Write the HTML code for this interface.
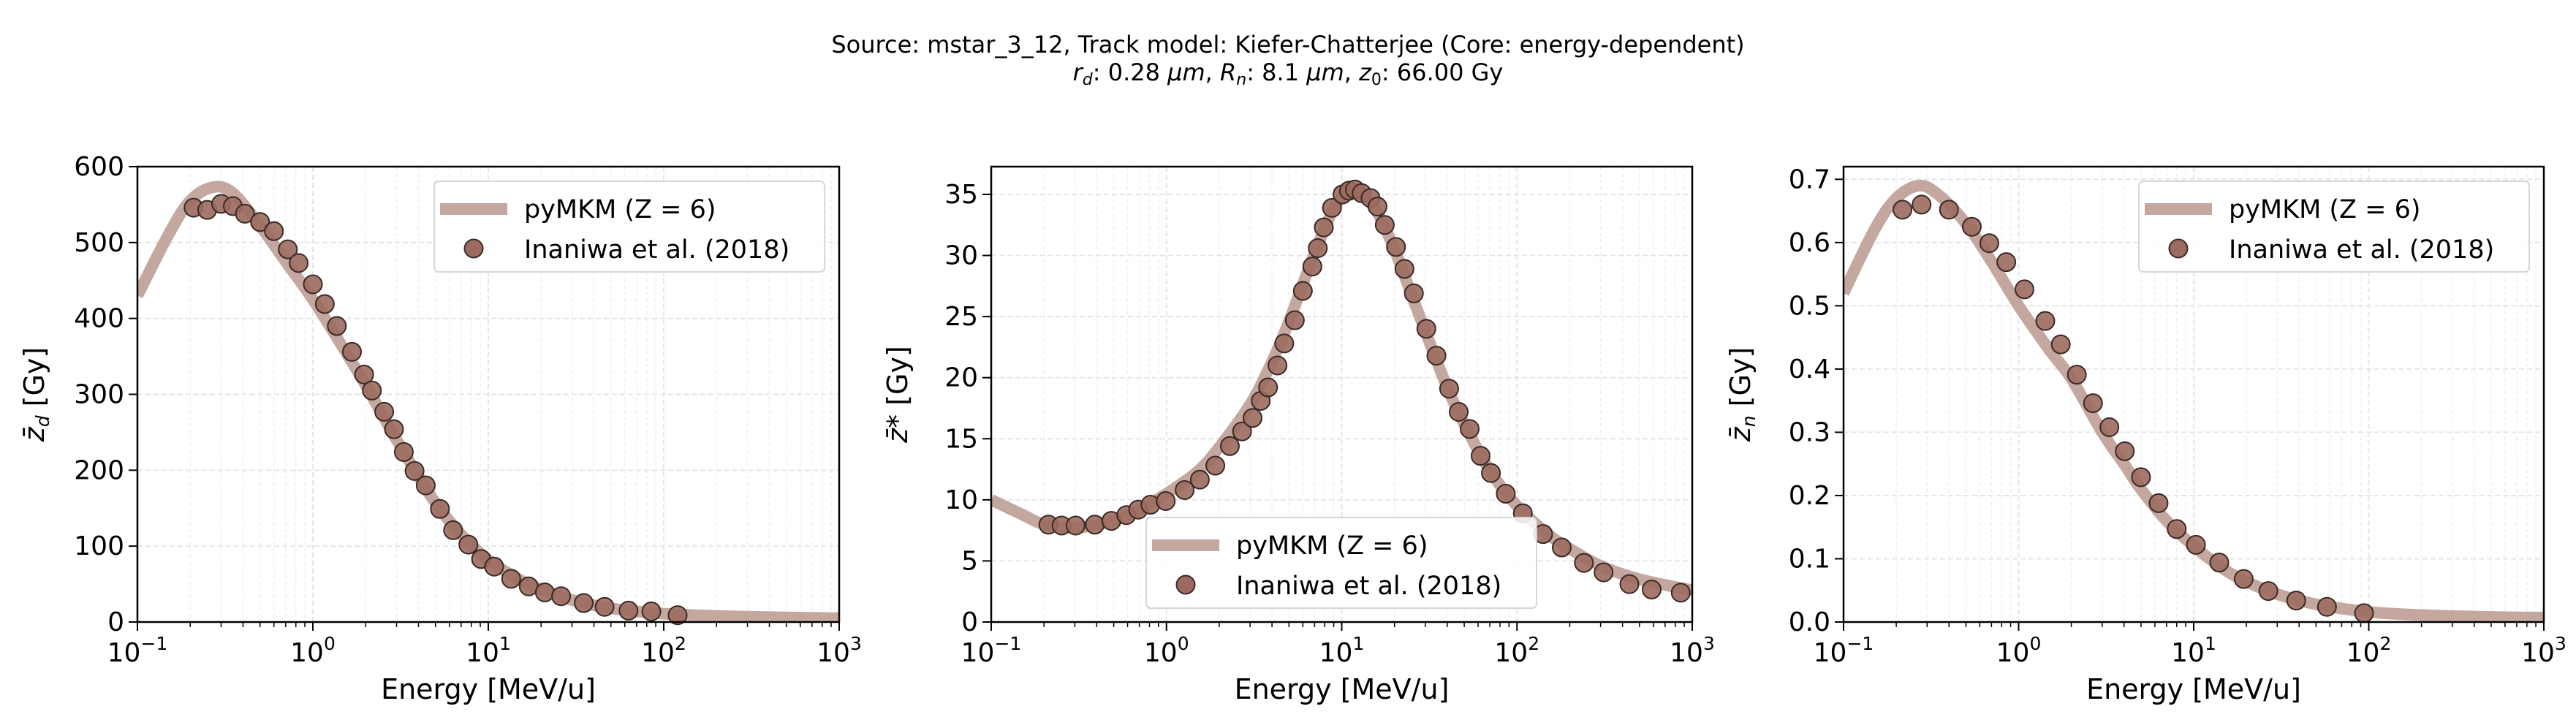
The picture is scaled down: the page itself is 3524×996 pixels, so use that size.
<!DOCTYPE html>
<html><head><meta charset="utf-8">
<style>
html,body{margin:0;padding:0;background:#fff;}
svg{display:block;font-family:"DejaVu Sans","Liberation Sans",sans-serif;}
</style></head>
<body>
<svg id="fig" width="3524" height="996" viewBox="0 0 3524 996" xmlns="http://www.w3.org/2000/svg">
<text x="1762" y="72" font-size="32" text-anchor="middle">Source: mstar_3_12, Track model: Kiefer-Chatterjee (Core: energy-dependent)</text>
<text x="1762" y="110" font-size="32" text-anchor="middle"><tspan font-style="italic">r</tspan><tspan font-style="italic" font-size="22" dy="6">d</tspan><tspan dy="-6">: 0.28 </tspan><tspan font-style="italic">μm</tspan><tspan>, </tspan><tspan font-style="italic">R</tspan><tspan font-style="italic" font-size="22" dy="6">n</tspan><tspan dy="-6">: 8.1 </tspan><tspan font-style="italic">μm</tspan><tspan>, </tspan><tspan font-style="italic">z</tspan><tspan font-size="22" dy="6">0</tspan><tspan dy="-6">: 66.00 Gy</tspan></text>
</svg>
<script>
// ---- Data (panel 1: z_d) ----
const lineE1 = [0.1,0.15,0.2,0.27,0.35,0.5,0.7,1,1.5,2,3,4,5,7,10,15,20,30,50,100,200,500,1000];
const lineY1 = [430,510,555,573,565,522,475,425,360,312,240,192,157,115,82,56,43,29,18,11,8,6,5];
const ptE1 = [0.209,0.25,0.30,0.35,0.41,0.50,0.60,0.72,0.83,1.0,1.17,1.37,1.67,1.96,2.17,2.55,2.9,3.3,3.8,4.4,5.3,6.3,7.7,9.1,10.8,13.5,17,21,26,35,46,63,85,120];
const ptY1 = [546,543,551,548,538,527,515,491,473,445,419,390,356,326,305,277,254,224,199,180,149,121,102,83,73,57,47,39,34,25,20,15,14,9];
// ---- Data (panel 2: z*) ----
const lineE2 = [0.1,0.15,0.2,0.3,0.5,0.7,1,1.5,2,3,4,5,7,9,11,13,16,20,25,30,40,50,70,100,150,200,300,500,1000];
const lineY2 = [10,8.8,8.0,7.7,8.3,9.2,10.5,12.3,14.3,17.8,21.3,24.6,30.2,33.8,35.3,35,33.5,30.5,26.8,23.8,19.2,16.2,12.4,9.5,7.2,6,4.6,3.5,2.6];
const ptE2 = [0.212,0.252,0.303,0.39,0.485,0.59,0.69,0.81,0.99,1.27,1.55,1.9,2.3,2.7,3.1,3.45,3.8,4.3,4.7,5.4,6.0,6.8,7.3,7.9,8.8,10.1,11.0,11.9,13.0,14.6,16,17.6,20.4,22.8,25.8,30.4,34.7,41,46.5,53.7,62,71,86.3,108,141,180,241,312,438,587,860];
const ptY2 = [7.97,7.9,7.9,7.97,8.28,8.75,9.2,9.6,9.9,10.8,11.65,12.8,14.4,15.6,16.7,18.1,19.2,21,22.8,24.7,27.1,29.1,30.6,32.3,33.9,35,35.3,35.4,35.1,34.7,34,32.5,30.7,28.9,26.9,24,21.8,19.1,17.2,15.8,13.6,12.2,10.5,8.9,7.2,6.1,4.84,4.06,3.1,2.66,2.4];
// ---- Data (panel 3: z_n) ----
const lineE3 = [0.1,0.15,0.2,0.27,0.35,0.5,0.7,1,1.5,2,3,4,5,7,10,15,20,30,50,100,200,500,1000];
const lineY3 = [0.52,0.62,0.67,0.69,0.675,0.63,0.57,0.50,0.43,0.385,0.30,0.25,0.21,0.16,0.12,0.083,0.064,0.044,0.028,0.016,0.011,0.008,0.007];
const ptE3 = [0.217,0.279,0.4,0.54,0.68,0.85,1.08,1.42,1.74,2.15,2.66,3.3,4.04,5.0,6.3,8.0,10.3,14,19.3,26.7,38.5,57.7,94];
const ptY3 = [0.652,0.66,0.652,0.625,0.599,0.569,0.526,0.476,0.439,0.391,0.346,0.308,0.27,0.229,0.188,0.147,0.122,0.094,0.068,0.049,0.034,0.024,0.014];
// ---- Tick labels ----
const yTicks1 = [0,100,200,300,400,500,600];
const yTicks2 = [0,5,10,15,20,25,30,35];
const yTicks3 = ["0.0","0.1","0.2","0.3","0.4","0.5","0.6","0.7"];
const xTickExp = ["−1","0","1","2","3"];

const NS = "http://www.w3.org/2000/svg";
const svg = document.getElementById('fig');
function mk(tag, attrs, parent) {
  const e = document.createElementNS(NS, tag);
  for (const k in attrs) e.setAttribute(k, attrs[k]);
  (parent || svg).appendChild(e);
  return e;
}
function smoothPath(pts) {
  let d = 'M' + pts[0][0].toFixed(1) + ' ' + pts[0][1].toFixed(1);
  for (let i = 0; i < pts.length - 1; i++) {
    const p0 = pts[Math.max(0, i - 1)], p1 = pts[i], p2 = pts[i + 1], p3 = pts[Math.min(pts.length - 1, i + 2)];
    const c1x = p1[0] + (p2[0] - p0[0]) / 6, c1y = p1[1] + (p2[1] - p0[1]) / 6;
    const c2x = p2[0] - (p3[0] - p1[0]) / 6, c2y = p2[1] - (p3[1] - p1[1]) / 6;
    d += ' C' + c1x.toFixed(1) + ' ' + c1y.toFixed(1) + ' ' + c2x.toFixed(1) + ' ' + c2y.toFixed(1) + ' ' + p2[0].toFixed(1) + ' ' + p2[1].toFixed(1);
  }
  return d;
}
const TOP = 228, BOT = 851;
const panels = [
  {L:188, R:1148, ymax:600, lineE:lineE1, lineY:lineY1, ptE:ptE1, ptY:ptY1, ticks:yTicks1, ylab:["z̄","d"], leg:{x:594,y:248}, name:"zd"},
  {L:1356, R:2315, ymax:37.27, lineE:lineE2, lineY:lineY2, ptE:ptE2, ptY:ptY2, ticks:yTicks2, ylab:["z̄*",""], leg:{x:1568,y:708}, name:"zstar"},
  {L:2522, R:3480, ymax:0.72, lineE:lineE3, lineY:lineY3, ptE:ptE3, ptY:ptY3, ticks:yTicks3, ylab:["z̄","n"], leg:{x:2926,y:248}, name:"zn"}
];
panels.forEach((p, pi) => {
  const g = mk('g', {});
  
  
  const xs = e => p.L + (Math.log10(e) + 1) / 4 * (p.R - p.L);
  const ys = v => BOT - v / p.ymax * (BOT - TOP);
  for (let d = -1; d < 3; d++) for (let m = 2; m < 10; m++) {
    const x = xs(m * Math.pow(10, d));
    const l = mk('line', {x1:x, x2:x, y1:TOP, y2:BOT, stroke:'#efefef', 'stroke-width':1.5, 'stroke-dasharray':'5,4'}, g);
    
    
    mk('line', {x1:x, x2:x, y1:BOT, y2:BOT+7, stroke:'#000', 'stroke-width':1.5}, g);
  }
  for (let d = -1; d <= 3; d++) {
    const x = xs(Math.pow(10, d));
    const l = mk('line', {x1:x, x2:x, y1:TOP, y2:BOT, stroke:'#e6e6e6', 'stroke-width':2, 'stroke-dasharray':'7,4'}, g);
    
    
    mk('line', {x1:x, x2:x, y1:BOT, y2:BOT+12, stroke:'#000', 'stroke-width':2}, g);
    const t = mk('text', {x:x, y:BOT+54, 'font-size':36, 'text-anchor':'middle'}, g);
    
    
    t.textContent = '10';
    const s = mk('tspan', {'font-size':25, dy:-16}, t);
    s.textContent = xTickExp[d + 1];
  }
  p.ticks.forEach(tv => {
    const y = ys(parseFloat(tv));
    const l = mk('line', {x1:p.L, x2:p.R, y1:y, y2:y, stroke:'#e6e6e6', 'stroke-width':2, 'stroke-dasharray':'7,4'}, g);
    
    
    mk('line', {x1:p.L-12, x2:p.L, y1:y, y2:y, stroke:'#000', 'stroke-width':2}, g);
    const t = mk('text', {x:p.L-18, y:y+12, 'font-size':36, 'text-anchor':'end'}, g);
    
    
    t.textContent = tv;
  });
  const clip = mk('clipPath', {id:'clip'+pi}, g);
  mk('rect', {x:p.L, y:TOP, width:p.R-p.L, height:BOT-TOP}, clip);
  const pts = p.lineE.map((e, i) => [xs(e), ys(p.lineY[i])]);
  const path = mk('path', {d:smoothPath(pts), fill:'none', stroke:'#c4a89f', 'stroke-width':16, 'stroke-linejoin':'round', 'clip-path':'url(#clip'+pi+')'}, g);
  
  
  p.ptE.forEach((e, i) => {
    const c = mk('circle', {cx:xs(e), cy:ys(p.ptY[i]), r:12.5, fill:'#9c6a5e', 'fill-opacity':0.9, stroke:'#3a2a26', 'stroke-width':2}, g);
    
    
  });
  const fr = mk('rect', {x:p.L, y:TOP, width:p.R-p.L, height:BOT-TOP, fill:'none', stroke:'#000', 'stroke-width':2.5}, g);
  
  
  const lg = mk('g', {}, g);
  
  
  mk('rect', {x:p.leg.x, y:p.leg.y, width:534, height:124, rx:6, fill:'#fff', 'fill-opacity':0.85, stroke:'#d6d6d6', 'stroke-width':2}, lg);
  mk('line', {x1:p.leg.x+8, x2:p.leg.x+100, y1:p.leg.y+38, y2:p.leg.y+38, stroke:'#c4a89f', 'stroke-width':16}, lg);
  const t1 = mk('text', {x:p.leg.x+123, y:p.leg.y+50, 'font-size':35}, lg);
  
  
  t1.textContent = 'pyMKM (Z = 6)';
  mk('circle', {cx:p.leg.x+54, cy:p.leg.y+92, r:12.5, fill:'#9c6a5e', stroke:'#3a2a26', 'stroke-width':2}, lg);
  const t2 = mk('text', {x:p.leg.x+123, y:p.leg.y+105, 'font-size':35}, lg);
  
  
  t2.textContent = 'Inaniwa et al. (2018)';
  const xl = mk('text', {x:(p.L+p.R)/2, y:956, 'font-size':38, 'text-anchor':'middle'}, g);
  
  
  xl.textContent = 'Energy [MeV/u]';
  const yx = p.L - (pi === 1 ? 115 : 128), yy = (TOP + BOT) / 2;
  const yl = mk('text', {x:yx, y:yy, 'font-size':38, 'text-anchor':'middle', transform:'rotate(-90 '+yx+' '+yy+')'}, g);
  
  
  const a = mk('tspan', {'font-style':'italic'}, yl); a.textContent = p.ylab[0];
  if (p.ylab[1]) { const b = mk('tspan', {'font-style':'italic', 'font-size':25, dy:7}, yl); b.textContent = p.ylab[1];
    const c2 = mk('tspan', {dy:-7}, yl); c2.textContent = '  [Gy]'; }
  else { const c2 = mk('tspan', {}, yl); c2.textContent = '  [Gy]'; }
});
</script>
</body></html>
